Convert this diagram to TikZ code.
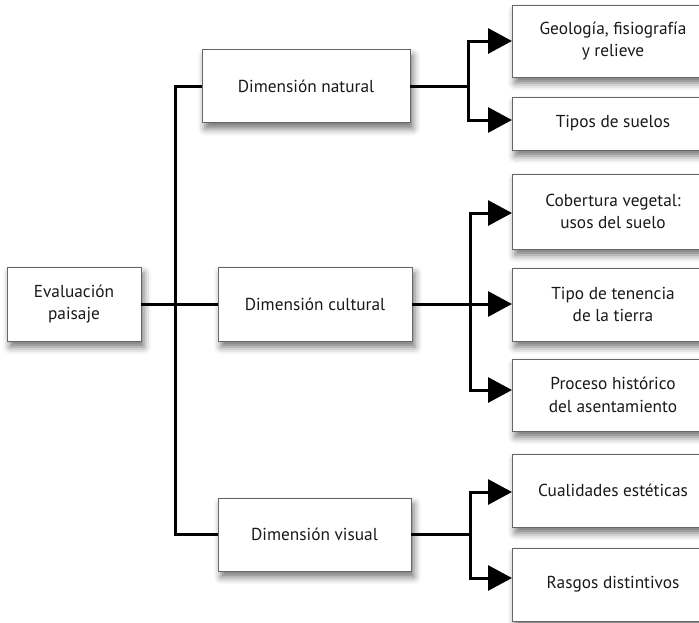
\documentclass[tikz,border=0pt]{standalone}
\usepackage{fontspec}
\setmainfont{PT Sans}
\usetikzlibrary{arrows.meta,calc,shadows.blur}
\begin{document}
\begin{tikzpicture}[x=1pt,y=-1pt,
  box/.style={draw=black!60, line width=0.8pt, fill=white, align=center,
    inner sep=0pt, outer sep=0pt, text=black!90,
    font=\fontsize{17.3}{22.5}\selectfont,
    blur shadow={shadow xshift=3pt, shadow yshift=-6pt, shadow blur radius=7pt, shadow opacity=55}},
  conn/.style={line width=3pt, black},
  arr/.style={conn, -{Triangle[length=24pt,width=25pt]}}]
\useasboundingbox (0,0) rectangle (699,622);
% left boxes
\node[box, minimum width=134pt, minimum height=74pt] (eval) at (74,304) {Evaluación\\paisaje};
\node[box, minimum width=208pt, minimum height=73pt] (dnat) at (306,86) {Dimensión natural};
\node[box, minimum width=194pt, minimum height=74pt] (dcult) at (315,304) {Dimensión cultural};
\node[box, minimum width=193pt, minimum height=73pt] (dvis) at (314.5,534.5) {Dimensión visual};
% right boxes
\node[box, minimum width=202pt, minimum height=72pt] (geo) at (613,41) {Geología, fisiografía\\y relieve};
\node[box, minimum width=202pt, minimum height=53pt] (tipos) at (613,123.5) {Tipos de suelos};
\node[box, minimum width=202pt, minimum height=75pt] (cob) at (613,211.5) {Cobertura vegetal:\\usos del suelo};
\node[box, minimum width=202pt, minimum height=73pt] (ten) at (613,304.5) {Tipo de tenencia\\de la tierra};
\node[box, minimum width=202pt, minimum height=72pt] (proc) at (613,395) {Proceso histórico\\del asentamiento};
\node[box, minimum width=202pt, minimum height=73pt] (cual) at (613,490.5) {Cualidades estéticas};
\node[box, minimum width=202pt, minimum height=73pt] (ras) at (613,584.5) {Rasgos distintivos};
% trunk
\draw[conn] (eval.east) -- (dcult.west);
\draw[conn] (dnat.west) -- ++(-27,0) |- (dvis.west);
% natural branch
\draw[conn] (dnat.east) -- ++(58,0) coordinate (bn);
\draw[arr] (bn) |- (geo.west);
\draw[arr] (bn) |- ($(tipos.west)+(0,-3.5)$);
% cultural branch
\draw[conn] (dcult.east) -- ++(58,0) coordinate (bc);
\draw[arr] (bc) |- ($(cob.west)+(0,1.5)$);
\draw[arr] (bc) -- ($(ten.west)+(0,-0.5)$);
\draw[arr] (bc) |- ($(proc.west)+(0,-5)$);
% visual branch
\draw[conn] (dvis.east) -- ++(59,0) coordinate (bv);
\draw[arr] (bv) |- ($(cual.west)+(0,1.5)$);
\draw[arr] (bv) |- ($(ras.west)+(0,-6.5)$);
\end{tikzpicture}
\end{document}
